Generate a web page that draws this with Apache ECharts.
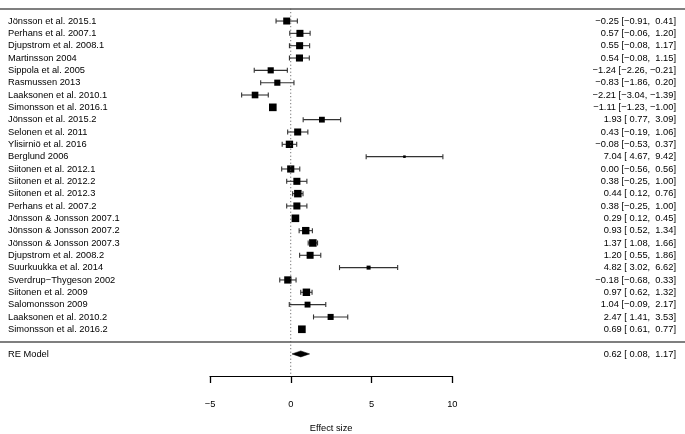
<!DOCTYPE html>
<html><head><meta charset="utf-8">
<script src="https://cdn.jsdelivr.net/npm/echarts@6/dist/echarts.min.js"></script>
<style>html,body{margin:0;padding:0;background:#fff}#c{width:685px;height:434px}</style>
</head><body><div id="c"></div>
<script>
const studies = [
  'Jönsson et al. 2015.1','Perhans et al. 2007.1','Djupstrom et al. 2008.1','Martinsson 2004',
  'Sippola et al. 2005','Rasmussen 2013','Laaksonen et al. 2010.1','Simonsson et al. 2016.1',
  'Jönsson et al. 2015.2','Selonen et al. 2011','Ylisirniö et al. 2016','Berglund 2006',
  'Siitonen et al. 2012.1','Siitonen et al. 2012.2','Siitonen et al. 2012.3','Perhans et al. 2007.2',
  'Jönsson & Jonsson 2007.1','Jönsson & Jonsson 2007.2','Jönsson & Jonsson 2007.3','Djupstrom et al. 2008.2',
  'Suurkuukka et al. 2014','Sverdrup\u2212Thygeson 2002','Siitonen et al. 2009','Salomonsson 2009',
  'Laaksonen et al. 2010.2','Simonsson et al. 2016.2'
];
const estimates = [-0.25,0.57,0.55,0.54,-1.24,-0.83,-2.21,-1.11,1.93,0.43,-0.08,7.04,0.00,0.38,0.44,0.38,0.29,0.93,1.37,1.20,4.82,-0.18,0.97,1.04,2.47,0.69];
const lowerCI   = [-0.91,-0.06,-0.08,-0.08,-2.26,-1.86,-3.04,-1.23,0.77,-0.19,-0.53,4.67,-0.56,-0.25,0.12,-0.25,0.12,0.52,1.08,0.55,3.02,-0.68,0.62,-0.09,1.41,0.61];
const upperCI   = [0.41,1.20,1.17,1.15,-0.21,0.20,-1.39,-1.00,3.09,1.06,0.37,9.42,0.56,1.00,0.76,1.00,0.45,1.34,1.66,1.86,6.62,0.33,1.32,2.17,3.53,0.77];
const pooledLabel = 'RE Model';
const pooledEstimate = 0.62;
const pooledLower = 0.08;
const pooledUpper = 1.17;
const xTickValues = [-5, 0, 5, 10];
const axisTitle = 'Effect size';

const k = studies.length;
const FONT = '"Liberation Sans", Arial, Helvetica, sans-serif';
const FS = 9.3;
const tau2 = 1.75;
const se = lowerCI.map((l, i) => (upperCI[i] - l) / 3.92);
const w = se.map(s => 1 / (s * s + tau2));
const wmin = Math.min(...w), wmax = Math.max(...w);
const psize = w.map(v => (v - wmin) / (wmax - wmin) + 0.5);

const f2 = v => (v < 0 ? '\u2212' : ' ') + Math.abs(v).toFixed(2);
const ciText = (e, l, u) => f2(e) + ' [' + f2(l) + ', ' + f2(u) + ']';

const yMin = -2.79, yMax = 27.6;
const topRow = k + 1;

function txt(x, y, text, align) {
  return {type: 'text', x: x, y: y, style: {text: text, fontSize: FS, fontFamily: FONT, fill: '#000',
    align: align, verticalAlign: 'middle', textAlign: align, textVerticalAlign: 'middle'}};
}

function renderStudy(params, api) {
  const i = api.value(4);
  const row = api.value(1);
  const c = api.coord([api.value(0), row]);
  const l = api.coord([api.value(2), row]);
  const u = api.coord([api.value(3), row]);
  const s = psize[i] * 5.1;
  const y = c[1];
  const st = {stroke: '#333', lineWidth: 1.1};
  return {type: 'group', children: [
    {type: 'line', shape: {x1: l[0], y1: y, x2: u[0], y2: y}, style: st},
    {type: 'line', shape: {x1: l[0], y1: y - 2.5, x2: l[0], y2: y + 2.5}, style: st},
    {type: 'line', shape: {x1: u[0], y1: y - 2.5, x2: u[0], y2: y + 2.5}, style: st},
    {type: 'rect', shape: {x: c[0] - s / 2, y: y - s / 2, width: s, height: s}, style: {fill: '#000'}},
    txt(8, y, studies[i], 'left'),
    txt(676, y, ciText(estimates[i], lowerCI[i], upperCI[i]), 'right')
  ]};
}

function renderPooled(params, api) {
  const row = api.value(1);
  const c = api.coord([api.value(0), row]);
  const l = api.coord([api.value(2), row]);
  const u = api.coord([api.value(3), row]);
  const y = c[1], h = 3;
  return {type: 'group', children: [
    {type: 'polygon', shape: {points: [[l[0], y], [c[0], y - h], [u[0], y], [c[0], y + h]]}, style: {fill: '#000', stroke: '#000', lineWidth: 0.5}},
    txt(8, y, pooledLabel, 'left'),
    txt(676, y, ciText(pooledEstimate, pooledLower, pooledUpper), 'right')
  ]};
}

const chart = echarts.init(document.getElementById('c'), null, {renderer: 'canvas'});
chart.setOption({
  animation: false,
  backgroundColor: '#fff',
  grid: [
    {left: 0, right: 0, top: 1.3, bottom: 58},
    {left: 210, right: 232.7, top: 375, height: 1}
  ],
  xAxis: [
    {gridIndex: 0, type: 'value', min: -18.0, max: 24.41, show: false},
    {gridIndex: 1, type: 'value', min: -5, max: 10, interval: 5,
      axisLine: {show: true, lineStyle: {color: '#000', width: 1}},
      axisTick: {show: true, length: 7, lineStyle: {color: '#000', width: 1.3}},
      axisLabel: {fontSize: FS, fontFamily: FONT, color: '#000', margin: 24,
        formatter: v => xTickValues.includes(v) ? String(v).replace('-', '\u2212') : ''},
      splitLine: {show: false},
      name: axisTitle, nameLocation: 'middle', nameGap: 48,
      nameTextStyle: {fontSize: FS, fontFamily: FONT, color: '#000'}}
  ],
  yAxis: [
    {gridIndex: 0, type: 'value', min: yMin, max: yMax, show: false},
    {gridIndex: 1, type: 'value', min: 0, max: 1, show: false}
  ],
  series: [
    {type: 'line', xAxisIndex: 0, yAxisIndex: 0, data: [], silent: true,
      markLine: {silent: true, symbol: 'none', label: {show: false},
        lineStyle: {color: '#555', width: 1.6, type: 'solid'},
        data: [{yAxis: topRow}, {yAxis: 0}]}},
    {type: 'line', xAxisIndex: 0, yAxisIndex: 0, data: [[0, topRow], [0, yMin]], showSymbol: false, silent: true,
      lineStyle: {color: '#555', width: 1, type: [1, 2.5]}},
    {type: 'custom', xAxisIndex: 0, yAxisIndex: 0, renderItem: renderStudy, clip: false,
      data: studies.map((n, i) => [estimates[i], k - i, lowerCI[i], upperCI[i], i])},
    {type: 'custom', xAxisIndex: 0, yAxisIndex: 0, renderItem: renderPooled, clip: false,
      data: [[pooledEstimate, -1, pooledLower, pooledUpper]]}
  ]
});
</script></body></html>
